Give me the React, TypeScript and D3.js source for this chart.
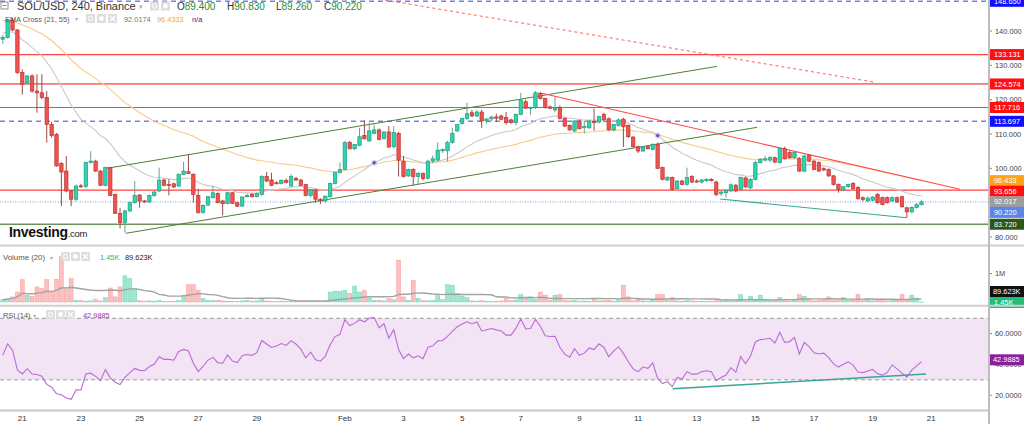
import React from 'react';
import * as d3 from 'd3';

// ---------- DATA ----------
const firstCandle = '2022-01-20T08:00:00Z';
const candleHours = 4;

// [open, high, low, close]
const candles: [number, number, number, number][] = [
  [137.6, 138.8, 136.3, 138.1], [138.1, 143.6, 137.8, 143.2], [143.2, 143.8, 140.0, 140.3], [140.3, 140.6, 127.5, 127.9],
  [127.9, 128.8, 121.5, 124.5], [124.9, 127.2, 124.3, 126.9], [126.9, 127.4, 122.0, 122.5], [122.5, 127.4, 116.2, 122.0],
  [122.0, 127.4, 120.2, 120.6], [120.6, 122.5, 107.5, 112.8], [112.8, 113.5, 109.0, 109.6], [109.9, 110.3, 100.5, 100.7],
  [101.4, 101.8, 89.0, 98.9], [99.2, 103.6, 93.0, 93.4], [93.4, 93.6, 89.0, 91.0], [91.0, 95.3, 90.5, 94.85],
  [94.9, 95.5, 94.3, 94.7], [94.7, 101.9, 94.3, 101.7], [101.7, 105.0, 101.4, 102.1], [102.1, 102.5, 99.0, 99.2],
  [99.2, 99.5, 94.9, 95.05], [95.05, 100.5, 94.8, 100.2], [100.2, 100.4, 92.0, 92.1], [92.4, 92.6, 86.7, 86.9],
  [86.9, 88.5, 82.5, 84.2], [84.2, 88.0, 81.3, 87.6], [87.6, 90.3, 87.3, 90.0], [90.0, 96.3, 89.7, 92.1],
  [92.2, 92.5, 88.5, 90.5], [90.5, 90.8, 90.0, 90.2], [90.2, 92.4, 89.9, 92.1], [92.1, 93.4, 91.7, 93.1],
  [93.4, 100.2, 93.1, 96.6], [96.6, 97.0, 94.8, 95.05], [95.3, 96.8, 92.1, 95.05], [95.5, 95.8, 94.3, 94.56],
  [94.85, 98.5, 94.6, 98.25], [98.25, 101.9, 98.0, 99.2], [99.0, 104.1, 98.4, 98.5], [98.25, 98.6, 90.0, 92.4],
  [92.1, 94.1, 86.8, 87.1], [87.1, 89.5, 86.8, 89.2], [89.3, 91.9, 89.0, 91.75], [91.45, 94.85, 91.2, 92.9],
  [92.7, 93.0, 89.8, 90.0], [90.5, 90.8, 86.3, 89.7], [89.8, 93.2, 89.5, 92.9], [92.9, 93.1, 89.6, 89.8],
  [90.0, 90.3, 88.7, 89.0], [89.0, 91.8, 88.8, 91.65], [91.75, 92.6, 91.5, 92.1], [92.4, 92.8, 91.5, 91.75],
  [91.75, 93.0, 91.5, 92.7], [92.4, 98.0, 92.0, 97.6], [97.6, 98.9, 96.0, 96.3], [96.6, 98.7, 94.8, 95.05],
  [95.8, 96.2, 95.3, 95.55], [95.55, 96.8, 95.3, 96.5], [96.5, 97.0, 95.6, 95.9], [94.85, 98.3, 94.6, 97.6],
  [97.1, 97.5, 96.3, 96.6], [96.6, 96.9, 94.8, 95.05], [95.3, 95.5, 91.9, 92.1], [92.1, 94.0, 91.5, 93.8],
  [93.7, 94.0, 90.0, 91.0], [91.0, 91.3, 89.6, 90.5], [90.5, 92.0, 90.0, 91.9], [91.75, 95.9, 91.5, 95.6],
  [95.6, 99.0, 95.3, 98.75], [98.75, 101.7, 98.5, 99.7], [99.7, 108.0, 99.5, 107.5], [107.5, 108.0, 105.5, 105.7],
  [105.7, 107.0, 105.3, 106.95], [106.7, 111.8, 106.4, 109.2], [109.6, 114.0, 108.4, 108.6], [108.0, 113.3, 107.7, 110.9],
  [110.2, 112.8, 109.9, 111.2], [111.2, 111.6, 108.2, 108.45], [108.65, 110.8, 108.3, 110.6], [110.6, 112.3, 106.0, 106.2],
  [106.3, 112.3, 105.8, 110.4], [110.2, 110.6, 97.6, 102.4], [102.1, 103.6, 97.3, 97.6], [97.8, 99.9, 97.5, 99.7],
  [99.7, 100.0, 95.0, 97.6], [97.6, 99.0, 95.3, 98.5], [98.5, 98.8, 96.5, 97.0], [97.1, 102.5, 96.8, 102.1],
  [102.1, 103.8, 101.5, 102.8], [102.4, 107.5, 102.0, 105.3], [105.1, 105.8, 104.5, 105.5], [105.1, 108.0, 102.0, 107.5],
  [107.5, 111.8, 107.2, 110.2], [110.9, 112.9, 110.5, 112.8], [113.1, 114.7, 112.7, 114.5], [114.5, 119.1, 114.0, 115.9],
  [116.2, 117.0, 114.9, 115.25], [115.25, 117.0, 114.9, 116.4], [116.4, 117.0, 111.8, 113.8], [113.8, 114.5, 113.0, 114.4],
  [114.4, 115.3, 113.8, 114.95], [114.95, 115.9, 113.5, 114.6], [115.25, 115.6, 114.0, 114.3], [114.8, 116.4, 112.7, 113.3],
  [114.1, 114.5, 113.0, 113.3], [113.3, 116.0, 112.5, 115.7], [115.7, 122.0, 115.5, 119.9], [119.4, 120.0, 117.4, 117.5],
  [117.4, 118.0, 115.6, 117.7], [117.7, 122.5, 117.3, 122.0], [121.85, 122.3, 120.0, 120.3], [120.3, 120.6, 117.4, 117.7],
  [117.9, 118.3, 117.2, 117.5], [117.0, 120.8, 116.3, 117.6], [117.8, 118.3, 114.2, 114.5], [114.5, 114.8, 112.0, 112.3],
  [112.5, 112.8, 110.9, 111.2], [110.9, 114.0, 110.5, 113.8], [113.8, 114.2, 111.3, 111.55], [112.0, 113.8, 110.2, 112.2],
  [111.8, 114.0, 111.5, 113.8], [113.7, 117.4, 110.9, 113.3], [113.5, 115.3, 113.0, 115.05], [115.7, 116.2, 114.0, 114.1],
  [114.45, 114.8, 110.9, 111.2], [111.2, 113.0, 110.8, 112.8], [112.5, 114.6, 112.2, 114.1], [114.3, 114.7, 106.2, 112.1],
  [112.5, 112.8, 108.9, 109.2], [109.1, 109.4, 106.0, 106.3], [106.3, 106.6, 104.5, 105.05], [105.05, 106.5, 104.8, 106.2],
  [106.3, 106.7, 105.5, 105.7], [105.5, 107.3, 105.2, 107.0], [107.0, 107.5, 99.8, 100.0], [100.2, 100.5, 96.5, 96.8],
  [96.6, 97.7, 96.3, 97.3], [97.3, 97.6, 93.6, 93.9], [94.1, 96.6, 93.8, 96.3], [96.3, 96.7, 95.1, 95.3],
  [95.3, 100.2, 95.0, 97.3], [97.6, 98.0, 95.7, 96.0], [96.3, 96.8, 95.8, 96.0], [96.0, 96.9, 95.6, 96.6],
  [96.4, 97.1, 96.1, 96.8], [96.8, 97.1, 96.2, 96.4], [96.0, 96.4, 91.9, 92.4], [92.7, 93.5, 91.9, 93.1],
  [92.9, 93.9, 91.4, 93.6], [93.4, 95.6, 93.1, 95.2], [95.1, 95.4, 93.1, 93.4], [93.9, 97.6, 93.6, 97.3],
  [97.2, 97.6, 94.3, 94.6], [94.3, 97.1, 94.0, 96.8], [96.8, 102.3, 96.5, 101.65], [101.65, 103.0, 101.4, 102.6],
  [102.4, 103.6, 102.0, 102.8], [102.4, 103.6, 101.8, 103.1], [103.1, 103.4, 101.6, 101.8], [101.65, 106.0, 101.4, 105.8],
  [105.7, 106.3, 102.6, 102.8], [104.6, 105.0, 102.8, 103.1], [103.1, 104.8, 102.8, 104.6], [102.8, 103.3, 99.0, 99.2],
  [99.2, 104.0, 98.9, 103.6], [103.8, 104.1, 101.8, 102.1], [102.1, 102.4, 99.4, 99.7], [101.7, 102.0, 99.0, 99.2],
  [99.9, 100.3, 99.2, 99.5], [99.7, 100.0, 97.5, 97.8], [97.8, 98.1, 95.0, 95.3], [95.3, 95.6, 92.9, 93.9],
  [93.7, 94.8, 93.3, 94.65], [94.65, 95.6, 94.3, 95.3], [95.6, 96.0, 93.8, 94.1], [94.4, 94.8, 90.8, 91.2],
  [91.45, 91.8, 90.4, 90.96], [90.5, 91.9, 90.2, 91.3], [90.7, 91.9, 90.4, 91.65], [92.4, 92.8, 89.7, 90.0],
  [91.45, 91.8, 89.2, 89.5], [91.45, 91.8, 89.7, 90.0], [90.5, 91.8, 90.2, 91.45], [91.45, 91.8, 89.9, 90.2],
  [91.75, 92.0, 88.6, 88.8], [88.5, 88.8, 85.6, 87.3], [87.3, 88.9, 86.9, 88.6], [88.6, 89.9, 88.3, 89.4],
  [89.4, 90.83, 89.26, 90.22],
];

// volume, millions
const volumes: number[] = [
  0.08, 0.12, 0.18, 0.35, 0.79, 0.24, 0.20, 0.53, 0.47, 0.79,
  0.35, 0.80, 1.59, 0.47, 0.82, 0.06, 0.06, 0.03, 0.04, 0.10,
  0.04, 0.15, 0.49, 0.18, 0.53, 0.92, 0.82, 0.47, 0.05, 0.03,
  0.04, 0.03, 0.05, 0.02, 0.03, 0.02, 0.05, 0.24, 0.61, 0.61,
  0.41, 0.12, 0.06, 0.05, 0.06, 0.04, 0.03, 0.03, 0.02, 0.04,
  0.06, 0.03, 0.04, 0.12, 0.04, 0.03, 0.02, 0.03, 0.02, 0.04,
  0.02, 0.03, 0.05, 0.03, 0.05, 0.03, 0.04, 0.35, 0.38, 0.38,
  0.41, 0.30, 0.56, 0.35, 0.41, 0.14, 0.05, 0.06, 0.04, 0.12,
  0.08, 1.47, 0.18, 0.06, 0.76, 0.12, 0.05, 0.04, 0.05, 0.26,
  0.08, 0.61, 0.59, 0.29, 0.21, 0.15, 0.04, 0.03, 0.05, 0.03,
  0.02, 0.03, 0.04, 0.12, 0.05, 0.07, 0.26, 0.14, 0.18, 0.10,
  0.35, 0.24, 0.06, 0.24, 0.26, 0.05, 0.04, 0.06, 0.03, 0.04,
  0.03, 0.09, 0.04, 0.05, 0.06, 0.03, 0.05, 0.59, 0.18, 0.05,
  0.14, 0.04, 0.03, 0.06, 0.26, 0.26, 0.05, 0.15, 0.04, 0.03,
  0.05, 0.04, 0.02, 0.03, 0.02, 0.03, 0.05, 0.04, 0.09, 0.05,
  0.06, 0.26, 0.05, 0.20, 0.08, 0.24, 0.06, 0.05, 0.07, 0.15,
  0.05, 0.04, 0.06, 0.26, 0.20, 0.12, 0.04, 0.05, 0.06, 0.18,
  0.06, 0.05, 0.15, 0.05, 0.07, 0.26, 0.05, 0.12, 0.04, 0.06,
  0.05, 0.04, 0.05, 0.06, 0.26, 0.08, 0.24, 0.14, 0.0015,
];

const ema21Seed = 139.5;
const ema55Seed = 143.2;
const rsiSeed = { prevClose: 137.6, avgGain: 1.2, avgLoss: 1.45 };

const priceTicks = [80, 90, 100, 110, 120, 130, 140];
const rsiTicks = [20, 40, 60];
const dateTickDates = ['2022-01-21', '2022-01-23', '2022-01-25', '2022-01-27', '2022-01-29', '2022-02-01', '2022-02-03', '2022-02-05', '2022-02-07', '2022-02-09', '2022-02-11', '2022-02-13', '2022-02-15', '2022-02-17', '2022-02-19', '2022-02-21'];
const dateTickLabels = ['21', '23', '25', '27', '29', 'Feb', '3', '5', '7', '9', '11', '13', '15', '17', '19', '21'];

const levelPrices = [148.65, 133.131, 124.574, 117.716, 113.697, 93.656, 83.72];
const levelKinds = ['blueDash', 'red', 'redSoft', 'red', 'blueDash', 'red', 'green'];
const lastClose = 90.22;
const emaLastValues = [92.0174, 96.4333];

const channelUpper = [{ t: '2022-01-23T21:00:00Z', p: 100.0 }, { t: '2022-02-13T16:30:00Z', p: 129.7 }];
const channelLower = [{ t: '2022-01-24T12:40:00Z', p: 81.07 }, { t: '2022-02-15T01:30:00Z', p: 111.95 }];
const resistance = [{ t: '2022-02-07T17:10:00Z', p: 121.85 }, { t: '2022-02-21T23:30:00Z', p: 93.9 }];
const dashedResistance = [{ t: '2022-02-02T08:50:00Z', p: 149.03 }, { t: '2022-02-19T00:30:00Z', p: 125.14 }];
const priceSupport = [{ t: '2022-02-13T19:10:00Z', p: 91.06 }, { t: '2022-02-20T03:50:00Z', p: 85.62 }];
const rsiSupport = [{ t: '2022-02-12T04:20:00Z', v: 24.2 }, { t: '2022-02-20T19:40:00Z', v: 33.8 }];

// ---------- CHART ----------
const FONT = 'Liberation Sans, Arial, sans-serif';
const AX = 989;

const kindStyle: Record<string, { stroke: string; width: number; dash?: string; bg: string }> = {
  blueDash: { stroke: '#7d7df2', width: 1.6, dash: '5,4', bg: '#1010ff' },
  red: { stroke: '#ff4242', width: 1.1, bg: '#ff1010' },
  redSoft: { stroke: '#ff7575', width: 1.8, bg: '#ff1010' },
  green: { stroke: '#6f9160', width: 1.4, bg: '#2b5718' },
};

function IconBox({ x, y, kind }: { x: number; y: number; kind: string }) {
  return (
    <g>
      <rect x={x} y={y} width={9} height={9} fill="#dedede" rx={1} />
      {kind === 'eye' && <circle cx={x + 4.5} cy={y + 4.5} r={2.2} fill="none" stroke="#fff" strokeWidth={1} />}
      {kind === 'gear' && <circle cx={x + 4.5} cy={y + 4.5} r={2.4} fill="#fff" />}
      {kind === 'x' && <path d={`M${x + 2},${y + 2}L${x + 7},${y + 7}M${x + 7},${y + 2}L${x + 2},${y + 7}`} stroke="#fff" strokeWidth={1.2} />}
    </g>
  );
}

export default function App() {
  const t0 = new Date(firstCandle).getTime();
  const times = candles.map((_, i) => new Date(t0 + i * candleHours * 3600 * 1000));
  const x = d3.scaleUtc().domain([new Date('2022-01-21T00:00:00Z'), new Date('2022-02-21T00:00:00Z')]).range([22.3, 931.3]);
  const yP = d3.scaleLinear().domain([80, 140]).range([237, 31]);
  const yV = d3.scaleLinear().domain([0, 1]).range([302, 273.5]);
  const yR = d3.scaleLinear().domain([30, 70]).range([379.8, 318.3]);

  const closes = candles.map(c => c[3]);
  const ema = (period: number, seed: number) => {
    const k = 2 / (period + 1);
    let e = seed;
    return closes.map(v => (e = v * k + e * (1 - k)));
  };
  const ema21 = ema(21, ema21Seed);
  const ema55 = ema(55, ema55Seed);
  let ag = rsiSeed.avgGain, al = rsiSeed.avgLoss, prev = rsiSeed.prevClose;
  const rsi = closes.map(c => {
    const ch = c - prev; prev = c;
    ag = (ag * 13 + Math.max(ch, 0)) / 14;
    al = (al * 13 + Math.max(-ch, 0)) / 14;
    return 100 - 100 / (1 + ag / al);
  });
  const volMa = volumes.map((_, i) => d3.mean(volumes.slice(Math.max(0, i - 19), i + 1)) as number);

  const crosses: number[] = [];
  for (let i = 1; i < closes.length; i++) {
    if (Math.sign(ema21[i] - ema55[i]) !== Math.sign(ema21[i - 1] - ema55[i - 1])) crosses.push(i);
  }

  const lineIdx = (vals: number[], y: (v: number) => number) =>
    d3.line<number>().x((_, i) => x(times[i])).y(v => y(v))(vals) || '';
  const seg = (pts: { t: string; p: number }[]) =>
    d3.line<{ t: string; p: number }>().x(d => x(new Date(d.t))).y(d => yP(d.p))(pts) || '';

  // right side price labels with collision stacking
  const labels: { v: number; text: string; bg: string; color?: string }[] = [
    ...levelPrices.map((p, i) => ({ v: p, text: p.toFixed(3), bg: kindStyle[levelKinds[i]].bg })),
    { v: emaLastValues[1], text: emaLastValues[1].toFixed(3), bg: '#ffa418' },
    { v: emaLastValues[0], text: emaLastValues[0].toFixed(3), bg: '#9e9e9e' },
    { v: lastClose, text: lastClose.toFixed(3), bg: '#5b86e8' },
  ].sort((a, b) => b.v - a.v);
  let lastY = -100;
  const placed = labels.map(l => {
    let yy = yP(l.v);
    if (yy < lastY + 10.6) yy = lastY + 10.6;
    lastY = yy;
    return { ...l, y: yy };
  });

  const bw = 3.4;
  return (
    <svg width={1024} height={424} style={{ position: 'absolute', left: 0, top: 0, background: '#fff' }} fontFamily={FONT}>
      <defs>
        <clipPath id="mainClip"><rect x={0} y={0} width={AX} height={245} /></clipPath>
        <clipPath id="rsiClip"><rect x={0} y={306} width={AX} height={104} /></clipPath>
      </defs>
      <rect width={1024} height={424} fill="#fff" />

      {/* ---------- main pane ---------- */}
      <g clipPath="url(#mainClip)">
        {levelPrices.map((p, i) => {
          const s = kindStyle[levelKinds[i]];
          return <line key={i} x1={0} x2={AX} y1={yP(p)} y2={yP(p)} stroke={s.stroke} strokeWidth={s.width} strokeDasharray={s.dash} />;
        })}
        <line x1={0} x2={AX} y1={yP(lastClose)} y2={yP(lastClose)} stroke="#7f9de6" strokeWidth={1} strokeDasharray="1,1.5" />
        <path d={lineIdx(ema55, yP)} fill="none" stroke="#fbc98a" strokeWidth={1.1} />
        <path d={lineIdx(ema21, yP)} fill="none" stroke="#c9c9c9" strokeWidth={1.1} />
        <path d={seg(channelUpper)} stroke="#4f7d3c" strokeWidth={1} fill="none" />
        <path d={seg(channelLower)} stroke="#4f7d3c" strokeWidth={1} fill="none" />
        <path d={seg(resistance)} stroke="#ff4a4a" strokeWidth={1.1} fill="none" />
        <path d={seg(dashedResistance)} stroke="#ff5c5c" strokeWidth={1} strokeDasharray="3,3" fill="none" />
        <path d={seg(priceSupport)} stroke="#3aa694" strokeWidth={1.1} fill="none" />
        {candles.map((c, i) => {
          const [o, h, l, cl] = c;
          const up = cl >= o;
          const cx = x(times[i]);
          const top = yP(Math.max(o, cl));
          const hgt = Math.max(1, Math.abs(yP(o) - yP(cl)));
          return (
            <g key={i}>
              <line x1={cx} x2={cx} y1={yP(h)} y2={yP(l)} stroke={up ? '#6fa18c' : '#9a4a48'} strokeWidth={1} />
              <rect x={cx - bw / 2} y={top} width={bw} height={hgt} fill={up ? '#2fd3ae' : '#ef5350'} stroke={up ? '#1e9f82' : '#bf3634'} strokeWidth={0.7} />
            </g>
          );
        })}
        {crosses.map(i => (
          <g key={i}>
            <circle cx={x(times[i])} cy={yP(ema21[i])} r={3} fill="#b9b2e8" opacity={0.6} />
            <circle cx={x(times[i])} cy={yP(ema21[i])} r={1.6} fill="#5b4fc4" />
          </g>
        ))}
      </g>

      {/* header */}
      <rect x={1} y={2} width={7} height={7} fill="none" stroke="#777" strokeWidth={0.8} />
      <line x1={2.5} x2={6.5} y1={5.5} y2={5.5} stroke="#777" strokeWidth={0.8} />
      <text x={17} y={10} fontSize={11} fill="#333">SOL/USD, 240, Binance</text>
      <text x={139} y={9} fontSize={7} fill="#aaa">▾</text>
      <IconBox x={150} y={1.5} kind="eye" />
      <IconBox x={161} y={1.5} kind="gear" />
      {[['O', '89.400', 177], ['H', '90.830', 227], ['L', '89.260', 276], ['C', '90.220', 324]].map(([k, v, px]) => (
        <text key={k as string} x={px as number} y={10} fontSize={10}>
          <tspan fill="#333">{k}</tspan><tspan fill="#2b8a3e">{v}</tspan>
        </text>
      ))}
      <text x={5} y={21.5} fontSize={7.4} fill="#555">EMA Cross (21, 55)</text>
      <text x={75} y={21} fontSize={6} fill="#aaa">▾</text>
      <IconBox x={86} y={14} kind="eye" />
      <IconBox x={97} y={14} kind="gear" />
      <IconBox x={108} y={14} kind="x" />
      <text x={124} y={21.5} fontSize={7.4} fill="#777">92.0174</text>
      <text x={157} y={21.5} fontSize={7.4} fill="#f5a623">96.4333</text>
      <text x={192} y={21.5} fontSize={7.4} fill="#25259a">n/a</text>

      {/* logo */}
      <text x={9} y={236.5} fontSize={14} fontWeight="bold" fill="#111" letterSpacing={-0.3}>Investing<tspan fontSize={9.5} fontWeight="normal" fill="#222">.com</tspan></text>

      {/* ---------- volume pane ---------- */}
      {volumes.map((v, i) => {
        const up = candles[i][3] >= candles[i][0];
        const cx = x(times[i]);
        return <rect key={i} x={cx - 2} y={yV(v)} width={4} height={Math.max(0.5, yV(0) - yV(v))}
          fill={up ? 'rgba(46,200,150,0.45)' : 'rgba(245,105,105,0.42)'} stroke={up ? 'rgba(46,200,150,0.6)' : 'rgba(245,105,105,0.55)'} strokeWidth={0.5} />;
      })}
      <path d={lineIdx(volMa, yV)} fill="none" stroke="#a3a3a3" strokeWidth={1.4} />
      <text x={3} y={260} fontSize={7.8} fill="#555">Volume (20)</text>
      <text x={50} y={259.5} fontSize={6} fill="#aaa">▾</text>
      <IconBox x={61} y={252} kind="eye" />
      <IconBox x={71} y={252} kind="gear" />
      <IconBox x={81} y={252} kind="x" />
      <text x={100} y={260} fontSize={7.4} fill="#20b37a">1.45K</text>
      <text x={125} y={260} fontSize={7.4} fill="#222">89.623K</text>

      {/* ---------- RSI pane ---------- */}
      <rect x={0} y={yR(70)} width={AX} height={yR(30) - yR(70)} fill="#f2e4f4" />
      <line x1={0} x2={AX} y1={yR(70)} y2={yR(70)} stroke="#9c9c9c" strokeDasharray="4,3" strokeWidth={1} />
      <line x1={0} x2={AX} y1={yR(30)} y2={yR(30)} stroke="#9c9c9c" strokeDasharray="4,3" strokeWidth={1} />
      <g clipPath="url(#rsiClip)">
        <path d={lineIdx(rsi, yR)} fill="none" stroke="#bb6bd6" strokeWidth={1.1} />
        <path d={d3.line<{ t: string; v: number }>().x(d => x(new Date(d.t))).y(d => yR(d.v))(rsiSupport) || ''} stroke="#3aa694" strokeWidth={1.5} fill="none" />
      </g>
      <text x={3} y={318} fontSize={7.4} fill="#555">RSI (14)</text>
      <text x={33} y={317.5} fontSize={6} fill="#aaa">▾</text>
      <IconBox x={46} y={310} kind="eye" />
      <IconBox x={56} y={310} kind="gear" />
      <IconBox x={66} y={310} kind="x" />
      <text x={83} y={318} fontSize={7.4} fill="#9b2fb0">42.9885</text>

      {/* ---------- right axis ---------- */}
      <rect x={AX + 1} y={0} width={1024 - AX - 1} height={424} fill="#fff" />
      {priceTicks.map(p => (
        <g key={p}>
          <line x1={AX} x2={AX + 3} y1={yP(p)} y2={yP(p)} stroke="#888" />
          <text x={AX + 6} y={yP(p) + 2.6} fontSize={7.4} fill="#444">{p.toFixed(3)}</text>
        </g>
      ))}
      {placed.map((l, i) => (
        <g key={i}>
          <rect x={AX + 1} y={l.y - 5.5} width={34} height={11} fill={l.bg} />
          <text x={AX + 5} y={l.y + 2.6} fontSize={7.4} fill="#fff">{l.text}</text>
        </g>
      ))}
      <line x1={AX} x2={AX + 3} y1={yV(1)} y2={yV(1)} stroke="#888" />
      <text x={AX + 6} y={yV(1) + 2.6} fontSize={7.4} fill="#444">1M</text>
      <rect x={AX + 1} y={286} width={34} height={11} fill="#111" />
      <text x={AX + 4} y={294.2} fontSize={7.4} fill="#fff">89.623K</text>
      <rect x={AX + 1} y={297} width={34} height={11} fill="#1fbf7a" />
      <text x={AX + 5} y={305.2} fontSize={7.4} fill="#fff">1.45K</text>
      {rsiTicks.map(v => (
        <g key={v}>
          <line x1={AX} x2={AX + 3} y1={yR(v)} y2={yR(v)} stroke="#888" />
          <text x={AX + 6} y={yR(v) + 2.6} fontSize={7.4} fill="#444">{v.toFixed(4)}</text>
        </g>
      ))}
      <rect x={AX + 1} y={yR(42.9885) - 5.5} width={34} height={11} fill="#8e1d9e" />
      <text x={AX + 4} y={yR(42.9885) + 2.6} fontSize={7.4} fill="#fff">42.9885</text>

      {/* ---------- separators & x axis ---------- */}
      <line x1={0} x2={1024} y1={245.5} y2={245.5} stroke="#cfcfcf" strokeWidth={2} />
      <line x1={0} x2={1024} y1={305.8} y2={305.8} stroke="#cfcfcf" strokeWidth={2} />
      <line x1={0} x2={AX} y1={410.5} y2={410.5} stroke="#c8c8c8" strokeWidth={2} />
      <line x1={AX} x2={AX} y1={0} y2={424} stroke="#bdbdbd" strokeWidth={2} />
      {dateTickDates.map((d, i) => (
        <text key={d} x={x(new Date(d + 'T00:00:00Z'))} y={421} fontSize={8} fill="#333" textAnchor="middle">{dateTickLabels[i]}</text>
      ))}
    </svg>
  );
}
